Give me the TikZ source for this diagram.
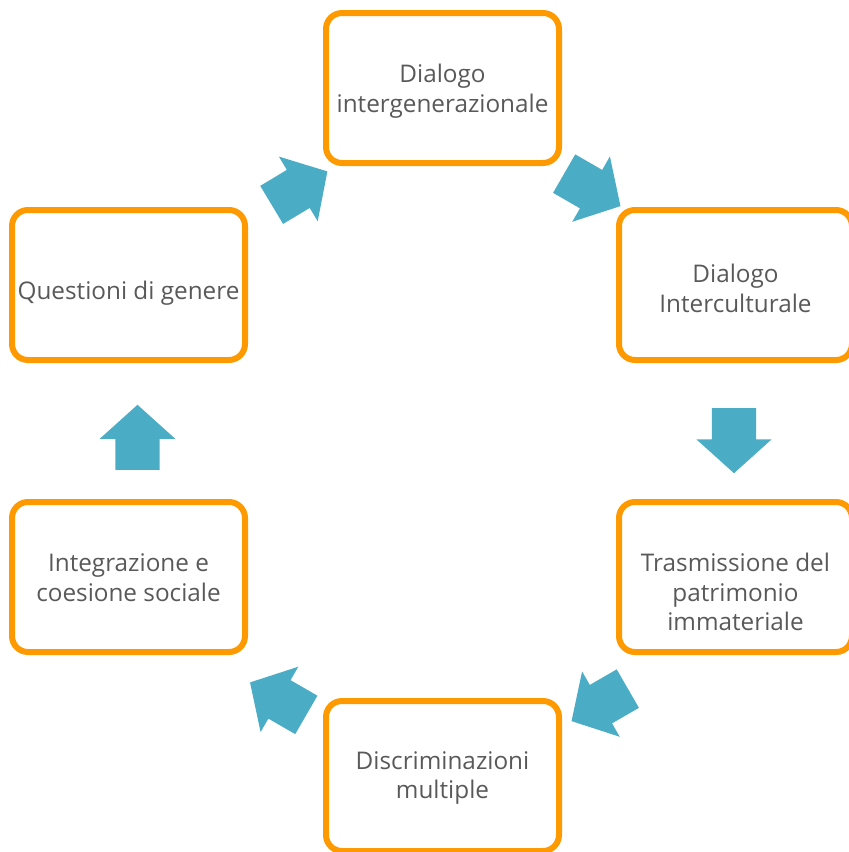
\documentclass[tikz,border=0pt]{standalone}
\usepackage{fontspec}
\setmainfont{Open Sans}
\usepackage{tikz}
\usetikzlibrary{shapes.arrows}
\definecolor{boxorange}{HTML}{FF9900}
\definecolor{arrowblue}{HTML}{4BACC6}
\definecolor{textgrey}{HTML}{595959}

\begin{document}
\begin{tikzpicture}[x = 1pt, y = -1pt,
  tema/.style = {draw = boxorange, line width = 6pt, rounded corners = 16pt, rectangle, minimum width = 233pt, minimum height = 150pt, inner sep = 0pt},
  testo/.style = {align = center, text = textgrey, inner sep = 0pt, font = \fontsize{24.3pt}{29.5pt}\selectfont},
  freccia/.style = {single arrow, anchor = tail, fill = arrowblue, draw = none, inner xsep = 0pt, inner ysep = 22pt, minimum height = 65pt, single arrow head extend = 15.5pt, single arrow tip angle = 96, single arrow head indent = 0pt}]
\path[use as bounding box, clip] (0,0) rectangle (849,852);
\node[tema, label = {[testo, yshift = -3pt]center:Dialogo\\intergenerazionale}] (intgen) at (442.5,88) {};
\node[tema, label = {[testo, yshift = -3.5pt]center:Dialogo\\Interculturale}] (intcult) at (735.5,285) {};
\node[tema, label = {[testo, yshift = -15pt]center:Trasmissione del\\patrimonio\\immateriale}] (patrim) at (735.5,577) {};
\node[tema, label = {[testo, yshift = -2pt]center:Discriminazioni\\multiple}] (discr) at (442.5,776) {};
\node[tema, label = {[testo, yshift = -0.5pt]center:Integrazione e\\coesione sociale}] (integr) at (128.5,577) {};
\node[tema, label = {[testo, yshift = -8pt]center:Questioni di genere}] (genere) at (128.5,285) {};
\node[freccia, rotate = 31] (a1) at (271.5,205) {};
\node[freccia, rotate = -30] (a2) at (564,173.5) {};
\node[freccia, rotate = -90] (a3) at (734,408) {};
\node[freccia, rotate = 210] (a4) at (628,688.5) {};
\node[freccia, rotate = 150] (a5) at (306.5,715) {};
\node[freccia, rotate = 90] (a6) at (137.5,470) {};
\end{tikzpicture}
\end{document}
